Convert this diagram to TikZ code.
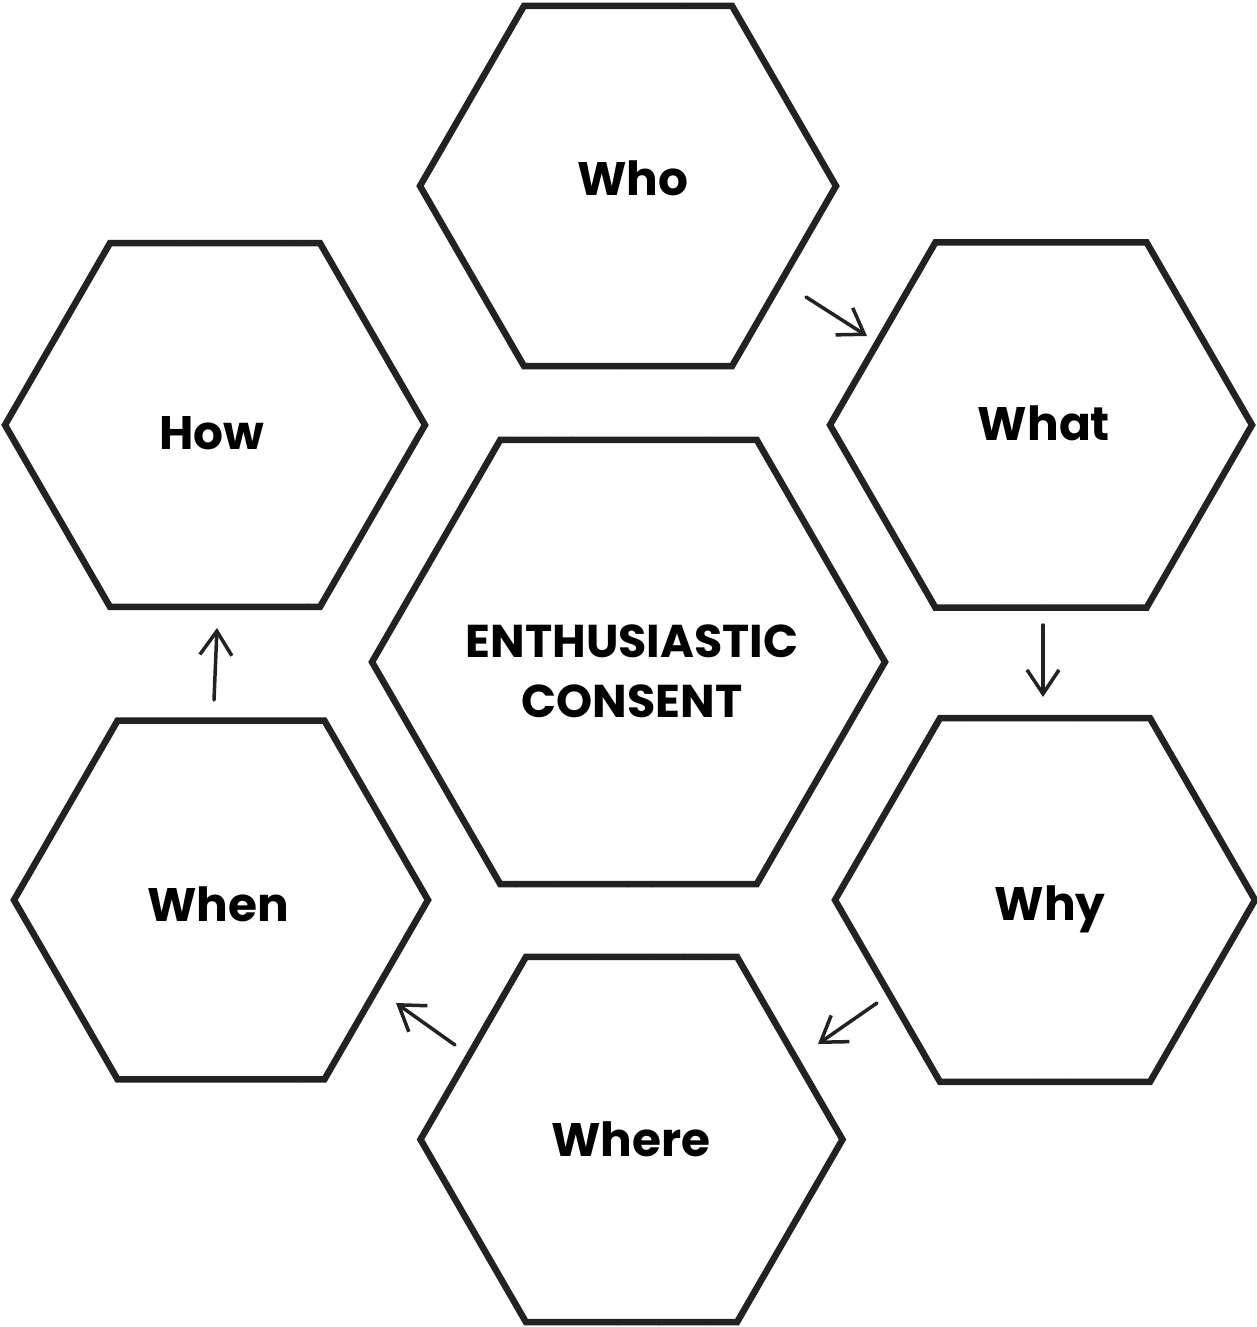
\documentclass[tikz,border=0pt]{standalone}
\usepackage{fontspec}
\setmainfont{Poppins}
\usetikzlibrary{shapes.geometric,arrows.meta,decorations.pathmorphing}
\definecolor{ink}{HTML}{222222}
\tikzset{
  hexa/.style={regular polygon, regular polygon sides=6, draw=ink, line width=6.5pt,
    line join=miter, inner sep=0pt, minimum size=#1,
    postaction={draw=ink, line width=2.5pt, decorate,
      decoration={random steps, segment length=6pt, amplitude=1.8pt}}},
  lbl/.style={anchor=base, font=\bfseries\fontsize{47}{60}\selectfont, text=black, inner sep=0pt},
  clbl/.style={anchor=base, font=\bfseries\fontsize{46}{60}\selectfont, text=black, inner sep=0pt},
  flow/.style={draw=ink, line width=3.5pt, line cap=round,
    -{Straight Barb[length=24pt,width=32pt,line width=3.5pt]}},
}
\begin{document}
\begin{tikzpicture}[x=1pt,y=-1pt]
\useasboundingbox (0,0) rectangle (1257,1327);
% hexagons
\node[hexa=416] (who)   at (628,186) {};
\node[hexa=422] (what)  at (1041,425) {};
\node[hexa=420] (why)   at (1045,900) {};
\node[hexa=422] (where) at (631.5,1139.5) {};
\node[hexa=414] (when)  at (221,900) {};
\node[hexa=420] (how)   at (215,425) {};
\node[hexa=513] (core)  at (628.5,662) {};
% labels
\node[lbl] (whot)   at (633,195)  {Who};
\node[lbl] (whatt)  at (1044,440) {What};
\node[lbl] (whyt)   at (1050,920) {Why};
\node[lbl] (wheret) at (631,1156) {Where};
\node[lbl] (whent)  at (218,921)  {When};
\node[lbl] (howt)   at (212,449)  {How};
\node[clbl] (coret1) at (632,657) {ENTHUSIASTIC};
\node[clbl] (coret2) at (632,717) {CONSENT};
% arrow end points
\coordinate (a1s) at (806,297);  \coordinate (a1e) at (867,336);
\coordinate (a2s) at (1043,625); \coordinate (a2e) at (1043,697);
\coordinate (a3s) at (877,1003); \coordinate (a3e) at (818,1044);
\coordinate (a4s) at (455,1045); \coordinate (a4e) at (396,1003);
\coordinate (a5s) at (214,700);  \coordinate (a5e) at (217,628);
\draw[flow] (a1s) -- (a1e);
\draw[flow] (a2s) -- (a2e);
\draw[flow] (a3s) -- (a3e);
\draw[flow] (a4s) -- (a4e);
\draw[flow] (a5s) -- (a5e);
\end{tikzpicture}
\end{document}
